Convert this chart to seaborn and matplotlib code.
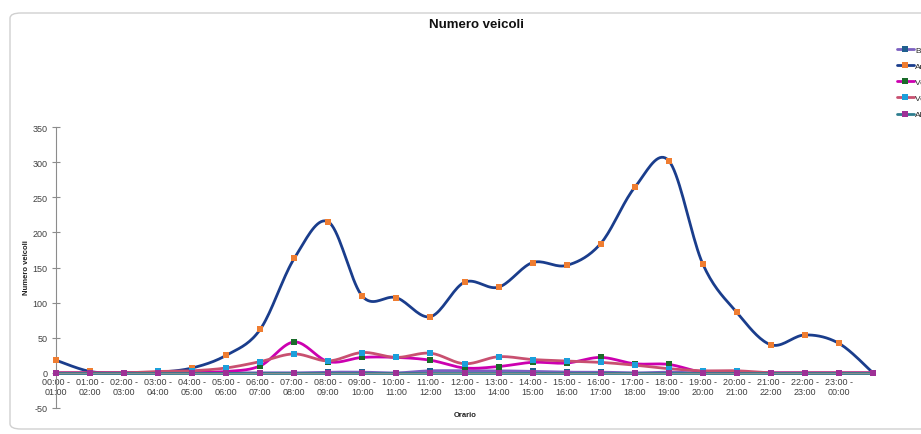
import numpy as np
import pandas as pd
import matplotlib
matplotlib.use("Agg")
import matplotlib.pyplot as plt
from matplotlib.patches import FancyBboxPatch
import seaborn as sns

# fasce orarie (24 etichette, 25 punti: l'ultimo senza etichetta)
fasce = ["00:00 -\n01:00", "01:00 -\n02:00", "02:00 -\n03:00", "03:00 -\n04:00",
         "04:00 -\n05:00", "05:00 -\n06:00", "06:00 -\n07:00", "07:00 -\n08:00",
         "08:00 -\n09:00", "09:00 -\n10:00", "10:00 -\n11:00", "11:00 -\n12:00",
         "12:00 -\n13:00", "13:00 -\n14:00", "14:00 -\n15:00", "15:00 -\n16:00",
         "16:00 -\n17:00", "17:00 -\n18:00", "18:00 -\n19:00", "19:00 -\n20:00",
         "20:00 -\n21:00", "21:00 -\n22:00", "22:00 -\n23:00", "23:00 -\n00:00"]
punti = list(range(25))

bici = [0, 0, 0, 0, 0, 0, 0, 0, 1, 1, 0, 3, 3, 3, 2, 1, 1, 0, 1, 0, 0, 0, 0, 0, 0]
auto = [18, 2, 0, 1, 7, 25, 62, 163, 215, 109, 107, 80, 129, 122, 157, 153, 184,
        264, 302, 155, 86, 40, 54, 42, 0]
commerciali = [0, 0, 0, 0, 1, 2, 10, 44, 16, 22, 22, 18, 7, 9, 15, 14, 22, 13, 12,
               1, 1, 0, 0, 0, 0]
pesanti = [0, 0, 0, 2, 3, 7, 16, 27, 17, 29, 22, 28, 13, 23, 19, 17, 15, 11, 6,
           3, 3, 0, 0, 0, 0]
altro = [0, 0, 0, 0, 0, 0, 0, 0, 0, 0, 0, 0, 0, 0, 0, 0, 0, 0, 0, 0, 0, 0, 0, 0, 0]

serie = [
    ("Biciclette", bici, "#7b5fc0", "#1f5f8f"),
    ("Auto", auto, "#1a3d8c", "#ef7d31"),
    ("Veicoli commerciali", commerciali, "#cc00b0", "#1a6b2a"),
    ("Veicoli pesanti", pesanti, "#c85070", "#1ba0db"),
    ("Altro", altro, "#2e7d8e", "#9e3096"),
]


def curva_smussata(x, y, n=20):
    # linea smussata tipo Excel (Bezier / Catmull-Rom)
    x = np.asarray(x, float)
    y = np.asarray(y, float)
    px = np.concatenate([[x[0]], x, [x[-1]]])
    py = np.concatenate([[y[0]], y, [y[-1]]])
    t = np.linspace(0, 1, n)
    xs, ys = [], []
    for i in range(1, len(px) - 2):
        p0 = np.array([px[i], py[i]])
        p3 = np.array([px[i + 1], py[i + 1]])
        c1 = p0 + (np.array([px[i + 1], py[i + 1]]) - np.array([px[i - 1], py[i - 1]])) / 6
        c2 = p3 - (np.array([px[i + 2], py[i + 2]]) - np.array([px[i], py[i]])) / 6
        b = ((1 - t) ** 3)[:, None] * p0 + (3 * (1 - t) ** 2 * t)[:, None] * c1 \
            + (3 * (1 - t) * t ** 2)[:, None] * c2 + (t ** 3)[:, None] * p3
        xs.extend(b[:, 0])
        ys.extend(b[:, 1])
    return pd.DataFrame({"x": xs, "y": ys})


sns.set_style("white")
plt.rcParams["font.family"] = ["Liberation Sans", "DejaVu Sans"]
plt.rcParams["axes.unicode_minus"] = False

fig = plt.figure(figsize=(9.21, 4.35), dpi=100)
bordo = FancyBboxPatch((10 / 921, 1 - 430 / 435), 930 / 921, 416 / 435,
                       boxstyle="round,pad=0,rounding_size=0.012",
                       transform=fig.transFigure, facecolor="white",
                       edgecolor="#d0d0d0", linewidth=1, zorder=-10)
fig.patches.append(bordo)
ax = fig.add_axes([56 / 921, 1 - 409 / 435, (873 - 56) / 921, 281 / 435])
ax.patch.set_visible(False)

handles = []
for nome, valori, col_linea, col_marker in serie:
    df = curva_smussata(punti, valori)
    sns.lineplot(data=df, x="x", y="y", sort=False, estimator=None, ax=ax,
                 color=col_linea, linewidth=2.0, clip_on=False)
    ax.scatter(punti, valori, marker="s", s=22, color=col_marker, zorder=5,
               clip_on=False, linewidths=0)
    h, = ax.plot([], [], color=col_linea, linewidth=2.0, marker="s",
                 markersize=4.5, markerfacecolor=col_marker, markeredgewidth=0)
    handles.append((h, nome))

ax.set_xlim(0, 24)
ax.set_ylim(-50, 350)
ax.tick_params(axis="x", length=0, pad=3, labelsize=6.5, labelcolor="#404040")
ax.tick_params(axis="y", direction="inout", length=6, width=0.8, color="#8c8c8c",
               labelsize=6.5, labelcolor="#404040", pad=3, left=True)
ax.set_yticks(range(-50, 351, 50))
ax.set_xticks(range(24))
ax.set_xticklabels(fasce, fontsize=6.5, color="#404040", linespacing=2.1)
for s in ["top", "right"]:
    ax.spines[s].set_visible(False)
ax.spines["bottom"].set_position(("data", 0))
ax.spines["bottom"].set_color("#8c8c8c")
ax.spines["left"].set_color("#8c8c8c")
ax.spines["left"].set_linewidth(0.8)

ax.set_xlabel("")
ax.set_ylabel("")
fig.text(27 / 921, 1 - 268 / 435, "Numero veicoli", rotation=90, ha="center",
         va="center", fontsize=5.5, fontweight="bold", color="#222222")
fig.text(465 / 921, 1 - 416 / 435, "Orario", ha="center", va="center",
         fontsize=5.5, fontweight="bold", color="#222222")
fig.text(476 / 921, 1 - 25 / 435, "Numero veicoli", ha="center", va="center",
         fontsize=9.5, fontweight="bold", color="#111111")

fig.legend([h for h, _ in handles], [n for _, n in handles], loc="upper left",
           bbox_to_anchor=(897 / 921, 1 - 47 / 435), frameon=False, fontsize=6,
           handlelength=2.0, handletextpad=0.2, labelspacing=1.0,
           borderaxespad=0, borderpad=0)

fig.savefig("out.png", dpi=100)
